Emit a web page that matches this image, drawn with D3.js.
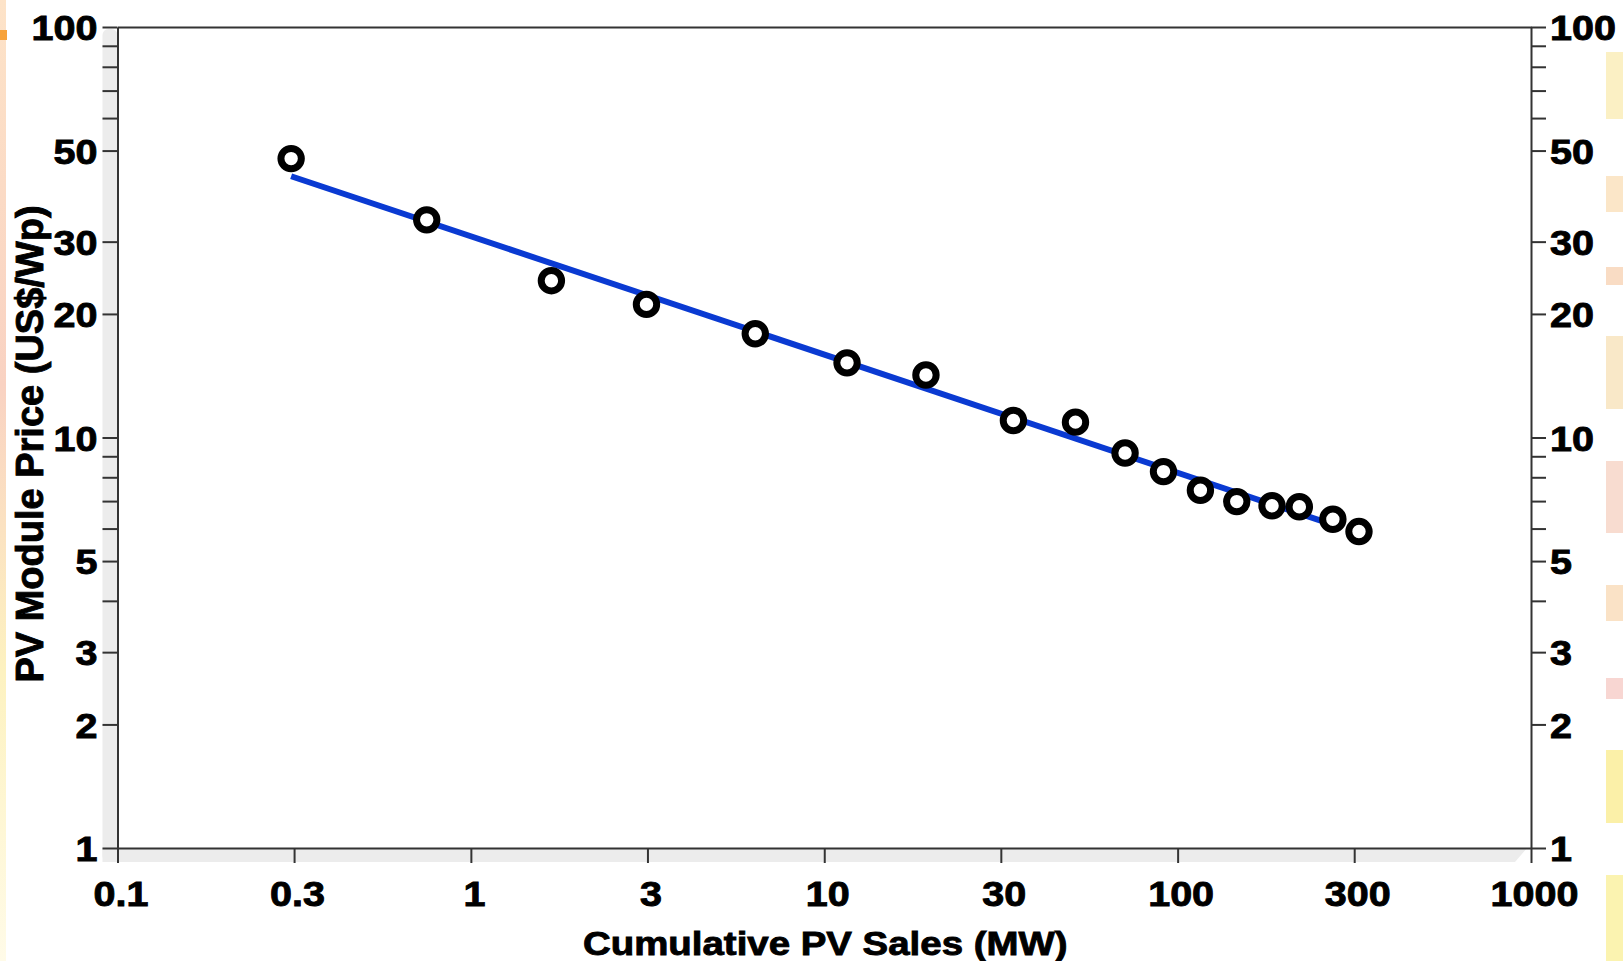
<!DOCTYPE html>
<html>
<head>
<meta charset="utf-8">
<script src="https://cdn.jsdelivr.net/npm/d3@7"></script>
<style>
  html, body { margin: 0; padding: 0; background: #fff; }
  svg { display: block; }
  text { font-family: 'Liberation Sans', Arial, sans-serif; font-weight: bold; fill: #000; stroke: #000; stroke-width: 0.9px; }
</style>
</head>
<body>
<svg class="learning-curve"></svg>
<script>
// Cumulative PV sales (MW) and module price (US$/Wp)
const salesMW = [0.31, 0.75, 1.69, 3.14, 6.38, 11.6, 19.4, 34.3, 51.4, 71.0, 91.2, 116, 147, 185, 221, 275, 326];
const priceUSD = [47.8, 33.9, 24.1, 21.1, 17.9, 15.2, 14.2, 11.0, 10.9, 9.17, 8.26, 7.44, 6.98, 6.82, 6.78, 6.32, 5.90];

// fitted learning curve (end points)
const fitSales = [0.31, 280];
const fitPrice = [43.3, 6.1];

// axis ticks: the "3" ticks sit at half decades in the picture
const xTicks = [0.1, 0.316, 1, 3.16, 10, 31.6, 100, 316, 1000];
const xTickLabels = ['0.1', '0.3', '1', '3', '10', '30', '100', '300', '1000'];
const yLabelTicks = [1, 2, 3, 5, 10, 20, 30, 50, 100];
const yMinorTicks = [4, 6, 7, 8, 9, 60, 70, 80, 90];

const xTitle = 'Cumulative PV Sales (MW)';
const yTitle = 'PV Module Price (US$/Wp)';

class LearningCurve {
  constructor() {
    this.width = 1623;
    this.height = 961;
    this.margin = { top: 27, right: 92, bottom: 113, left: 117.5 };

    this.svg = d3.select('.learning-curve')
      .attr('width', this.width)
      .attr('height', this.height);

    this.redraw();
  }

  redraw() {
    const m = this.margin;
    const w = this.width - m.left - m.right;
    const h = this.height - m.top - m.bottom;

    const x = d3.scaleLog().domain([0.1, 1000]).range([0, w]);
    const y = d3.scaleLog().domain([1, 100]).range([h, 0]);

    // slide background leftovers at the edges
    const defs = this.svg.append('defs');
    const grad = defs.append('linearGradient')
      .attr('id', 'edge')
      .attr('x1', 0).attr('y1', 0).attr('x2', 0).attr('y2', 1);
    grad.append('stop').attr('offset', '0%').attr('stop-color', '#fde3c8');
    grad.append('stop').attr('offset', '40%').attr('stop-color', '#f9d2c2');
    grad.append('stop').attr('offset', '70%').attr('stop-color', '#fdf2c0');
    grad.append('stop').attr('offset', '100%').attr('stop-color', '#fffbe8');

    this.svg.append('rect')
      .attr('x', 0).attr('y', 0)
      .attr('width', 6).attr('height', this.height)
      .attr('fill', 'url(#edge)');
    this.svg.append('rect')
      .attr('x', 0).attr('y', 30)
      .attr('width', 7).attr('height', 10)
      .attr('fill', '#f7a23a');

    const patches = [
      [52, 119, '#fbf0c4'], [176, 212, '#fbe6c8'], [267, 285, '#f9dcc4'],
      [336, 409, '#f9e8c8'], [461, 533, '#f8dcd0'], [585, 621, '#fae2c6'],
      [678, 699, '#f8d6d2'], [750, 823, '#fbf0a8'], [875, 961, '#fbf3b0'],
    ];
    this.svg.selectAll('rect.patch')
      .data(patches)
      .enter()
      .append('rect')
      .attr('class', 'patch')
      .attr('x', 1606)
      .attr('y', d => d[0])
      .attr('width', 17)
      .attr('height', d => d[1] - d[0])
      .attr('fill', d => d[2]);

    const g = this.svg.append('g')
      .attr('transform', `translate(${m.left}, ${m.top})`);

    // grey bevel left of and below the frame
    g.append('rect')
      .attr('x', -15).attr('y', 2)
      .attr('width', 15).attr('height', h + 12)
      .attr('rx', 6)
      .attr('fill', '#ececec');
    g.append('path')
      .attr('d', `M-15,${h}H${w - 4}L${w - 16},${h + 14}H-15Z`)
      .attr('fill', '#ececec');

    // frame: top border
    g.append('g')
      .call(d3.axisTop(x).tickValues([]).tickSizeOuter(0))
      .call(a => a.select('.domain').attr('stroke', '#333').attr('stroke-width', 2));

    const styleAxis = (a) => {
      a.select('.domain').attr('stroke', '#333').attr('stroke-width', 2);
      a.selectAll('.tick line').attr('stroke', '#333').attr('stroke-width', 2);
      a.selectAll('.tick text')
        .attr('font-size', 35)
        .attr('font-family', null)
        .attr('fill', '#000');
    };

    const yTicks = yLabelTicks.concat(yMinorTicks);
    const yFmt = d => (yLabelTicks.includes(d) ? d3.format('~g')(d) : '');

    // Add the Y Axis (left)
    g.append('g')
      .call(d3.axisLeft(y).tickValues(yTicks).tickFormat(yFmt).tickSize(15).tickSizeOuter(0))
      .call(styleAxis)
      .call(a => a.selectAll('.tick text')
        .attr('x', 0)
        .attr('dy', '0.36em')
        .attr('transform', 'translate(-20,0) scale(1.13,1)'));

    // Add the Y Axis (right)
    g.append('g')
      .attr('transform', `translate(${w}, 0)`)
      .call(d3.axisRight(y).tickValues(yTicks).tickFormat(yFmt).tickSize(15).tickSizeOuter(0))
      .call(styleAxis)
      .call(a => a.selectAll('.tick text')
        .attr('x', 0)
        .attr('dy', '0.36em')
        .attr('transform', 'translate(19,0) scale(1.13,1)'));

    // Add the X Axis
    g.append('g')
      .attr('transform', `translate(0, ${h})`)
      .call(d3.axisBottom(x).tickValues(xTicks)
        .tickFormat((d, i) => xTickLabels[i]).tickSize(15).tickSizeOuter(0))
      .call(styleAxis)
      .call(a => a.selectAll('.tick text')
        .attr('y', 58)
        .attr('dy', null)
        .attr('transform', 'translate(3,0) scale(1.13,1)'));

    // fitted line
    const fit = fitSales.map((s, i) => ({ s, p: fitPrice[i] }));
    g.append('path')
      .datum(fit)
      .attr('d', d3.line().x(d => x(d.s)).y(d => y(d.p)))
      .attr('fill', 'none')
      .attr('stroke', '#0a3ad2')
      .attr('stroke-width', 6);

    // data points
    const points = salesMW.map((s, i) => ({ s, p: priceUSD[i] }));
    g.selectAll('circle.pt')
      .data(points)
      .enter()
      .append('circle')
      .attr('class', 'pt')
      .attr('cx', d => x(d.s))
      .attr('cy', d => y(d.p))
      .attr('r', 10.2)
      .attr('fill', '#fff')
      .attr('stroke', '#000')
      .attr('stroke-width', 7);

    // axis titles
    g.append('text')
      .attr('transform', `translate(${x(10) + 1}, ${h + 107}) scale(1.13,1)`)
      .attr('text-anchor', 'middle')
      .attr('font-size', 34)
      .text(xTitle);

    g.append('text')
      .attr('transform', `translate(${43 - m.left}, ${444 - m.top}) rotate(-90)`)
      .attr('text-anchor', 'middle')
      .attr('font-size', 38)
      .text(yTitle);
  }
}

new LearningCurve();
</script>
</body>
</html>
